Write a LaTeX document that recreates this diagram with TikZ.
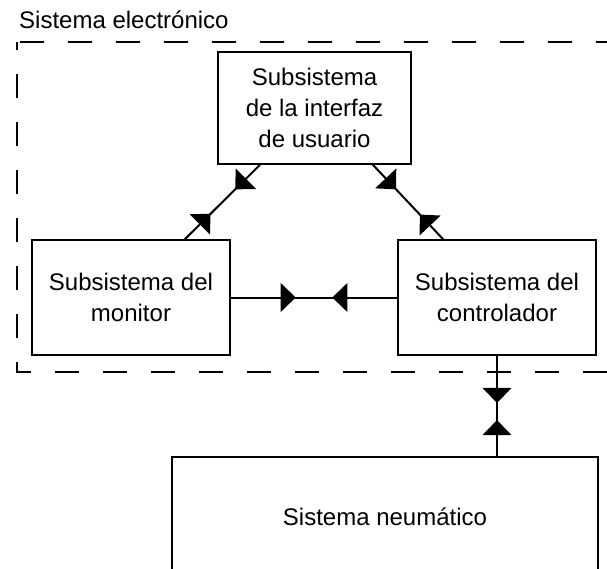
\documentclass[tikz,border=0pt]{standalone}
\usepackage{fontspec}
\setmainfont{Liberation Sans}
\usetikzlibrary{calc,decorations.markings}
\tikzset{
  txt/.style={font=\fontsize{24}{31}\selectfont},
  box/.style={draw, line width=1.6pt, align=center, inner sep=0pt, txt},
  conn/.style={line width=2pt},
  fwd/.style={postaction={decorate, decoration={markings, mark=at position #1 with {\fill (0,0) -- (-15,14.5) -- (-15,-14.5) -- cycle;}}}},
  bwd/.style={postaction={decorate, decoration={markings, mark=at position #1 with {\fill (0,0) -- (15,14.5) -- (15,-14.5) -- cycle;}}}},
  frame/.style={line width=1.6pt, dash pattern=on 24pt off 24pt}
}
\begin{document}
\begin{tikzpicture}[x=1pt, y=-1pt]
\useasboundingbox (0,0) rectangle (607,569);
\node[txt, anchor=west, inner sep=0pt] (lbl) at (19,20) {Sistema electrónico};
\draw[frame, dash phase=45pt] (17,42) -- (640,42);
\draw[frame, dash phase=16pt] (17,42) -- (17,372) -- (640,372);
\node[box, minimum width=193pt, minimum height=112pt] (ui) at (314.5,108) {Subsistema\\de la interfaz\\de usuario};
\node[box, minimum width=198pt, minimum height=115pt] (mon) at (131,297.5) {Subsistema del\\monitor};
\node[box, minimum width=198pt, minimum height=115pt] (ctl) at (497,297.5) {Subsistema del\\controlador};
\node[box, minimum width=426pt, minimum height=120pt] (neu) at (385,517) {Sistema neumático};
\coordinate (uiL) at ($(ui.south west)!0.22!(ui.south east)$);
\coordinate (uiR) at ($(ui.south west)!0.80!(ui.south east)$);
\coordinate (monT) at ($(mon.north west)!0.77!(mon.north east)$);
\coordinate (ctlT) at ($(ctl.north west)!0.23!(ctl.north east)$);
\draw[conn, fwd=0.33, bwd=0.66] (uiL) -- (monT);
\draw[conn, fwd=0.33, bwd=0.67] (uiR) -- (ctlT);
\draw[conn, fwd=0.39, bwd=0.61] (mon.east) -- (ctl.west);
\draw[conn, fwd=0.47, bwd=0.64] (ctl.south) -- (ctl.south |- neu.north);
\end{tikzpicture}
\end{document}
